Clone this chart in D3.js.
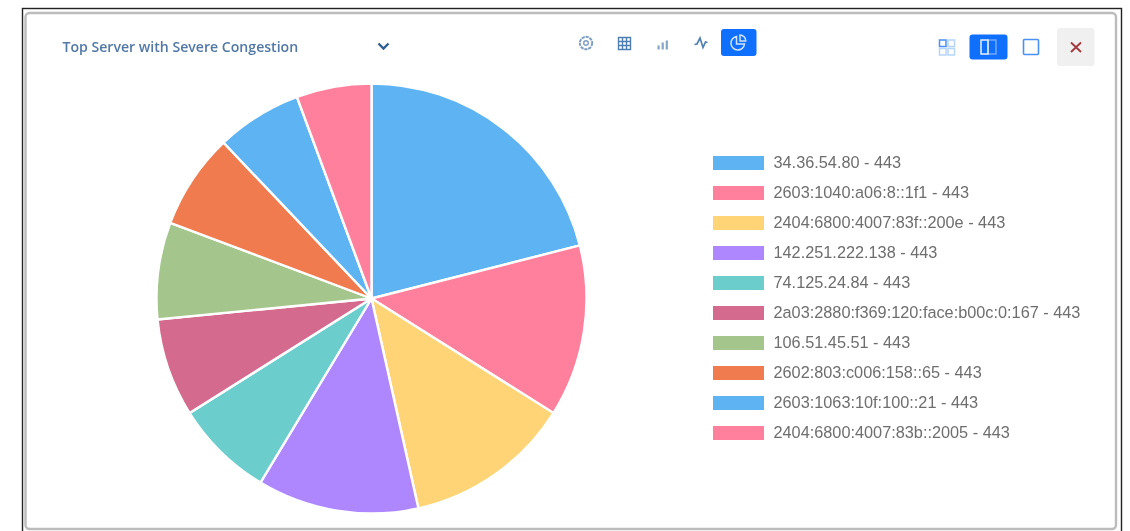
<!DOCTYPE html>
<html><head><meta charset="utf-8">
<script src="https://cdn.jsdelivr.net/npm/d3@7"></script>
<style>
html,body{margin:0;padding:0;background:#fff;overflow:hidden}
svg{display:block;filter:blur(.45px)}
</style></head><body><svg id="c" width="1130" height="531"></svg>
<script>
const labels=["34.36.54.80 - 443","2603:1040:a06:8::1f1 - 443","2404:6800:4007:83f::200e - 443","142.251.222.138 - 443","74.125.24.84 - 443","2a03:2880:f369:120:face:b00c:0:167 - 443","106.51.45.51 - 443","2602:803:c006:158::65 - 443","2603:1063:10f:100::21 - 443","2404:6800:4007:83b::2005 - 443"];
const values=[75.7,46.5,45.2,43.7,26.7,26.6,26.2,25.9,23.2,20.3];
const colors=["#5eb4f2","#ff809d","#ffd477","#ae87ff","#6ccdcd","#d46b8e","#a4c68c","#ef7b4f","#5eb4f2","#ff809d"];
const title="Top Server with Severe Congestion";

const svg=d3.select("#c");
svg.append("rect").attr("x",22.5).attr("y",8.5).attr("width",1099).attr("height",530).attr("fill","#fff").attr("stroke","#222").attr("stroke-width",1.4);
svg.append("rect").attr("x",25.5).attr("y",13).attr("width",1090.5).attr("height",516).attr("rx",4).attr("fill","#fff").attr("stroke","#bcbcbc").attr("stroke-width",2.4);

svg.append("text").attr("x",62.5).attr("y",52).attr("font-family","'Open Sans'").attr("font-size",14.1).attr("font-weight",600).attr("fill","#5279a6").text(title);
svg.append("path").attr("d","M378.5 43.5l5 5 5-5").attr("fill","none").attr("stroke","#2f5f92").attr("stroke-width",2.4);

const pie=d3.pie().sort(null).value(d=>d)(values);
const arc=d3.arc().innerRadius(0).outerRadius(215);
svg.append("g").attr("transform","translate(371.5,298.5)").selectAll("path").data(pie).join("path")
  .attr("d",arc).attr("fill",(d,i)=>colors[i]).attr("stroke","#fff").attr("stroke-width",2.4);

const y=d3.scalePoint().domain(labels).range([163,433]);
const lg=svg.append("g").selectAll("g").data(labels).join("g").attr("transform",d=>`translate(0,${y(d)})`);
lg.append("rect").attr("x",713).attr("y",-7).attr("width",51).attr("height",14).attr("fill",(d,i)=>colors[i]);
lg.append("text").attr("x",773.5).attr("y",5).attr("font-family","'Liberation Sans'").attr("font-size",16.3).attr("fill","#6e6e6e").text(d=>d);

// button backgrounds first, icons above them
svg.append("rect").attr("x",721).attr("y",29).attr("width",35.5).attr("height",27).attr("rx",3).attr("fill","#0f6fff");
svg.append("rect").attr("x",969.5).attr("y",34.5).attr("width",38).attr("height",25).attr("rx",3).attr("fill","#0f6fff");
svg.append("rect").attr("x",1057).attr("y",28).attr("width",37.5).attr("height",38).attr("rx",3).attr("fill","#f0f0f0");

const t=svg.append("g").attr("fill","none");
t.append("circle").attr("cx",586).attr("cy",43).attr("r",6.2).attr("stroke","#7f9fc2").attr("stroke-width",2).attr("stroke-dasharray","3.2 .8");
t.append("circle").attr("cx",586).attr("cy",43).attr("r",2.3).attr("stroke","#7f9fc2").attr("stroke-width",1.4);
t.append("path").attr("d","M618.5 37.5h12v12h-12zM618.5 41.5h12M618.5 45.5h12M622.5 37.5v12M626.5 37.5v12").attr("stroke","#4f7fb0").attr("stroke-width",1.4);
t.append("path").attr("d","M657.5 45.5h2.2v4h-2.2zM661.6 42.5h2.2v7h-2.2zM665.7 40.5h2.2v9h-2.2z").attr("fill","#85a5c6");
t.append("path").attr("d","M694.5 44.5l2.5-.5 3-6 3 9.5 2.5-5.5 2 .5").attr("stroke","#4f7fb0").attr("stroke-width",1.7);
t.append("path").attr("d","M736.5 36.5a6.8 6.8 0 1 0 8 7.5h-8z").attr("stroke","#cfe3ff").attr("stroke-width",1.5);
t.append("path").attr("d","M740 35a6 6 0 0 1 5.8 6h-5.8z").attr("stroke","#cfe3ff").attr("stroke-width",1.5);
t.append("path").attr("d","M939.5 40h6.5v6.5h-6.5z").attr("stroke","#4a90f5").attr("stroke-width",1.5);
t.append("path").attr("d","M948 40h6.5v6.5H948zM948 48.5h6.5V55H948zM939.5 48.5h6.5V55h-6.5z").attr("stroke","#b7d5fb").attr("stroke-width",1.5);
t.append("rect").attr("x",988).attr("y",40).attr("width",8).attr("height",14).attr("stroke","#73a8fb").attr("stroke-width",1.5);
t.append("rect").attr("x",981).attr("y",40).attr("width",7).attr("height",14).attr("stroke","#e8f1ff").attr("stroke-width",1.5);
t.append("rect").attr("x",1023.5).attr("y",39.5).attr("width",15).attr("height",15).attr("rx",1).attr("stroke","#4a90f5").attr("stroke-width",1.6);
t.append("path").attr("d","M1071 42.5l10 9.5M1081 42.5l-10 9.5").attr("stroke","#a23a3f").attr("stroke-width",1.9);
</script></body></html>
